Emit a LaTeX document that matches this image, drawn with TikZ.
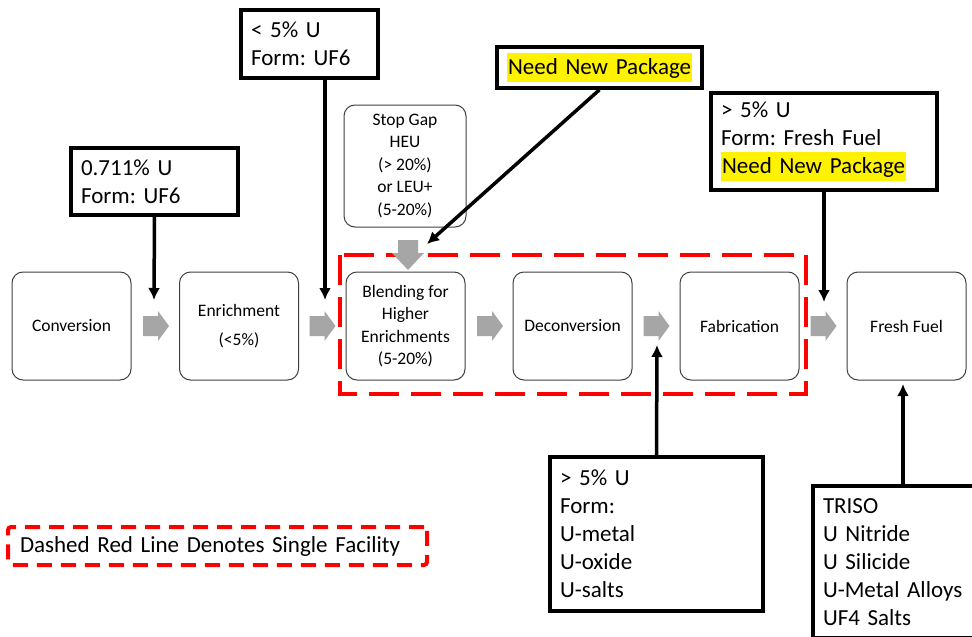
\documentclass[tikz,border=0pt]{standalone}
\usepackage{fontspec}
\setmainfont{Carlito}
\usetikzlibrary{arrows.meta}
\newcommand\hlbox[1]{{\setlength\fboxsep{1pt}\colorbox{yellow}{\rule[-7pt]{0pt}{27pt}#1}}}
\frenchspacing
\begin{document}
\begin{tikzpicture}[x=1pt,y=-1pt,
 proc/.style={draw=black!75, line width=1pt, rounded corners=11pt, minimum width=119pt, minimum height=108pt, align=center, font=\fontsize{17.5}{22.5}\selectfont, inner sep=2pt},
 info/.style={draw=black, line width=3.5pt, align=left, font=\fontsize{23}{28}\selectfont, inner xsep=10pt, inner ysep=0pt},
 gfill/.style={fill=black!35, draw=none},
 rarrow/.pic={\fill[gfill] (-13,-10) -- (2,-10) -- (2,-15) -- (13,0) -- (2,15) -- (2,10) -- (-13,10) -- cycle;},
 darrow/.pic={\fill[gfill] (-10,-15) -- (10,-15) -- (10,-2) -- (16,-2) -- (0,15) -- (-16,-2) -- (-10,-2) -- cycle;},
 link/.style={line width=3.5pt, -{Latex[length=12pt,width=12pt]}},
 facility/.style={draw=red, line width=4.5pt, dash pattern=on 30pt off 12pt},
]
\useasboundingbox (0,0) rectangle (972,637);
\fill[white] (0,0) rectangle (972,637);
\clip (0,0) rectangle (972,637);

% single facility
\draw[facility] (340,255) rectangle (806,394);

% process boxes
\node[proc] (conv)  at (71.5,326)  {Conversion};
\node[proc] (enr)   at (239,326)   {Enrichment\\[6pt](<5\%)};
\node[proc] (blend) at (405.5,326) {Blending for\\Higher\\Enrichments\\(5-20\%)};
\node[proc] (decon) at (572.5,326) {Deconversion};
\node[proc] (fab)   at (739.5,326) {Fabrication};
\node[proc] (fresh) at (906.5,326) {Fresh Fuel};
\node[proc, minimum width=122pt, minimum height=122pt] (stop) at (405,166) {Stop Gap\\HEU\\(> 20\%)\\or LEU+\\(5-20\%)};

% gray block arrows
\pic at (156,326) {rarrow};
\pic at (322.5,326) {rarrow};
\pic at (490,326) {rarrow};
\pic at (656.5,326) {rarrow};
\pic at (823.5,326) {rarrow};
\pic at (408,255) {darrow};

% info boxes
\node[info, text width=147pt, minimum height=67pt] (b1) at (154.5,181.5) {0.711\% U\\Form: UF6};
\node[info, text width=117pt, minimum height=68pt] (b2) at (309.5,44) {< 5\% U\\Form: UF6};
\node[info, text width=185pt, minimum height=41pt] (b3) at (599.5,67.5) {\hlbox{Need New Package}};
\node[info, text width=206pt, minimum height=97pt] (b4) at (824,141.5) {> 5\% U\\Form: Fresh Fuel\\\hlbox{Need New Package}};
\node[info, text width=193pt, minimum height=154pt] (b5) at (656.5,534) {> 5\% U\\Form:\\U-metal\\U-oxide\\U-salts};
\node[info, text width=160pt, minimum height=152pt] (b6) at (903,562) {TRISO\\U Nitride\\U Silicide\\U-Metal Alloys\\UF4 Salts};

% legend
\node[draw=red, line width=4pt, dash pattern=on 15pt off 9pt, rounded corners=3pt, minimum height=38pt, text width=395pt, inner xsep=12pt, align=left, font=\fontsize{23}{28}\selectfont] (legend) at (217.5,546) {Dashed Red Line Denotes Single Facility};

% arrow targets
\coordinate (t1) at (154,300);
\coordinate (t2) at (325,300);
\coordinate (t3) at (427,244);
\coordinate (t4) at (824,302);
\coordinate (t5) at (657,345);
\coordinate (t6) at (903,384);

\draw[link] (b1.south) -- (t1);
\draw[link] (b2.south -| t2) -- (t2);
\draw[link] (b3.south) -- (t3);
\draw[link] (b4.south) -- (t4);
\draw[link] (b5.north) -- (t5);
\draw[link] (b6.north) -- (t6);
\end{tikzpicture}
\end{document}
